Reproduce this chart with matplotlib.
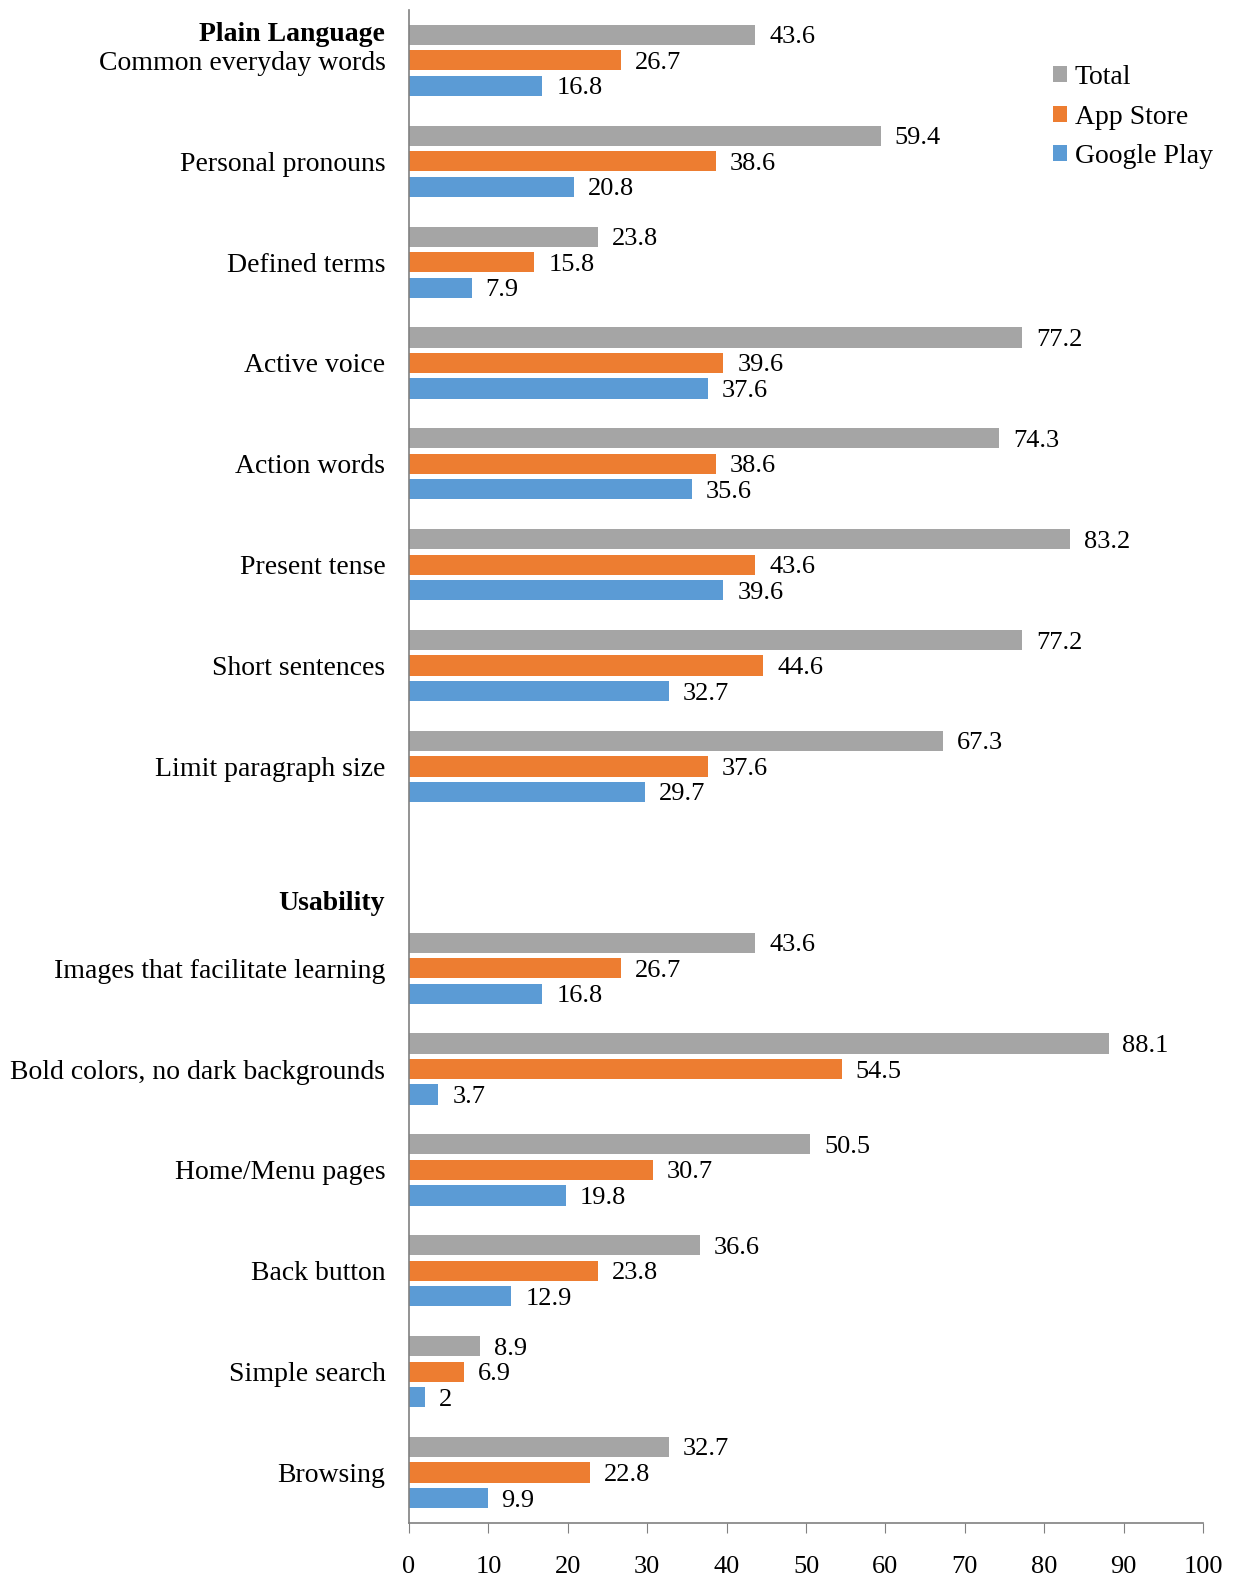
import numpy as np
import matplotlib
matplotlib.use("Agg")
import matplotlib.pyplot as plt
import matplotlib.transforms as mtransforms

plt.rcParams['font.family'] = ['Liberation Serif', 'DejaVu Serif']

# categories top to bottom, '' is the gap row between the two sections
categories = ['Common everyday words', 'Personal pronouns', 'Defined terms',
              'Active voice', 'Action words', 'Present tense', 'Short sentences',
              'Limit paragraph size', '',
              'Images that facilitate learning', 'Bold colors, no dark backgrounds',
              'Home/Menu pages', 'Back button', 'Simple search', 'Browsing']
total = [43.6, 59.4, 23.8, 77.2, 74.3, 83.2, 77.2, 67.3, np.nan,
         43.6, 88.1, 50.5, 36.6, 8.9, 32.7]
app_store = [26.7, 38.6, 15.8, 39.6, 38.6, 43.6, 44.6, 37.6, np.nan,
             26.7, 54.5, 30.7, 23.8, 6.9, 22.8]
google_play = [16.8, 20.8, 7.9, 37.6, 35.6, 39.6, 32.7, 29.7, np.nan,
               16.8, 3.7, 19.8, 12.9, 2, 9.9]
series_names = ['Total', 'App Store', 'Google Play']
colors = ['#A5A5A5', '#ED7D31', '#5B9BD5']
sections = ['Plain Language', 'Usability']
x_ticks = list(range(0, 101, 10))

fig = plt.figure(figsize=(12.41, 15.78), dpi=100)
ax = fig.add_axes([0.3296, 0.0349, 0.6398, 0.9588])

y = np.arange(len(categories))
pitch = 0.253
height = 0.2
for i, (vals, name, c) in enumerate(zip([total, app_store, google_play], series_names, colors)):
    bars = ax.barh(y + (i - 1) * pitch, vals, height=height, color=c, label=name)
    labels = ['' if np.isnan(v) else f'{v:g}' for v in vals]
    texts = ax.bar_label(bars, labels=labels, padding=10, fontsize=19)
    for t in texts:
        t.set_va('center_baseline')

ax.set_ylim(len(categories) - 0.5, -0.5)
ax.set_xlim(0, 100)
ax.set_xticks(x_ticks)
ax.tick_params(axis='x', labelsize=19, length=7, color='#808080', pad=17)
ax.set_yticks(y)
ax.set_yticklabels(categories, fontsize=20)
ax.tick_params(axis='y', length=0, pad=17)
for t in ax.get_yticklabels():
    t.set_va('center_baseline')

for s in ['top', 'right']:
    ax.spines[s].set_visible(False)
for s in ['left', 'bottom']:
    ax.spines[s].set_color('#808080')
    ax.spines[s].set_linewidth(1.2)

# section headers on the category axis
trans = mtransforms.blended_transform_factory(ax.transAxes, ax.transData)
ax.text(-0.030, 0 - 0.29, sections[0], transform=trans, ha='right', va='center_baseline',
        fontsize=20, fontweight='bold')
ax.text(-0.030, 8 + 0.33, sections[1], transform=trans, ha='right', va='center_baseline',
        fontsize=20, fontweight='bold')

ax.legend(loc='upper right', bbox_to_anchor=(1.044, 0.980), frameon=False, fontsize=20,
          handlelength=0.5, handleheight=0.5, handletextpad=0.3, labelspacing=0.52)

fig.savefig('out.png', dpi=100)
